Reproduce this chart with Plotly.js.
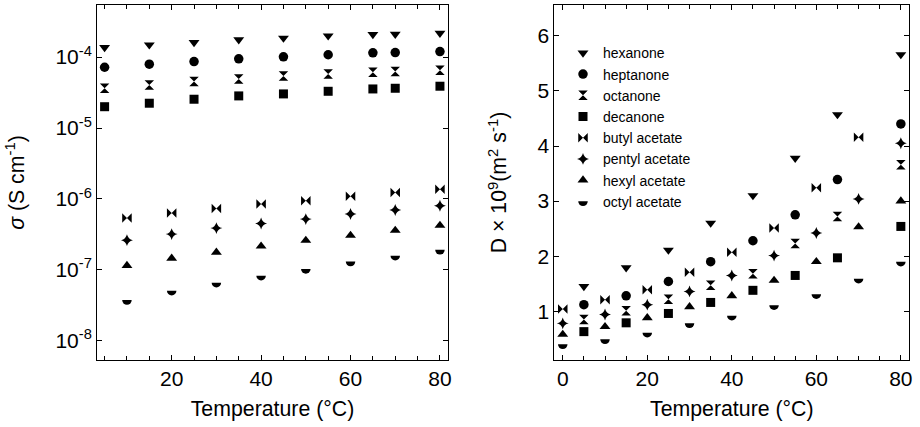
<!DOCTYPE html>
<html>
<head>
<meta charset="utf-8">
<script src="https://cdn.plot.ly/plotly-3.0.1.min.js"></script>
<style>html,body{margin:0;padding:0;background:#fff;}#chart{width:920px;height:427px;}</style>
</head>
<body>
<div id="chart"></div>
<script>
// ---------- data ----------
var names = ["hexanone","heptanone","octanone","decanone","butyl acetate","pentyl acetate","hexyl acetate","octyl acetate"];
var symbols = ["triangle-down","circle","hourglass","square","bowtie","star-diamond","triangle-up","circle"];
var sizes = [9.5,9.5,9.5,9,9.5,8.5,9.5,9.5];

// Left panel: conductivity (S cm^-1) vs temperature
var ketoneT_L = [5,15,25,35,45,55,65,70,80];
var hexanone_sig  = [1.37e-4,1.49e-4,1.61e-4,1.76e-4,1.86e-4,2.0e-4,2.09e-4,2.11e-4,2.18e-4];
var heptanone_sig = [7.2e-5,7.96e-5,8.67e-5,9.46e-5,1.01e-4,1.08e-4,1.15e-4,1.16e-4,1.2e-4];
var octanone_sig  = [3.64e-5,4.06e-5,4.52e-5,4.93e-5,5.44e-5,5.8e-5,6.13e-5,6.25e-5,6.55e-5];
var decanone_sig  = [2.0e-5,2.24e-5,2.55e-5,2.84e-5,3.03e-5,3.3e-5,3.56e-5,3.64e-5,3.89e-5];
var acetateT_L = [10,20,30,40,50,60,70,80];
var butyl_sig  = [5.38e-7,6.34e-7,7.36e-7,8.5e-7,9.46e-7,1.09e-6,1.23e-6,1.37e-6];
var pentyl_sig = [2.63e-7,3.2e-7,3.89e-7,4.52e-7,5.21e-7,6.13e-7,6.99e-7,8.04e-7];
var hexyl_sig  = [1.15e-7,1.46e-7,1.77e-7,2.16e-7,2.6e-7,3.06e-7,3.6e-7,4.24e-7];
var octyl_sig  = [3.76e-8,5.1e-8,6.6e-8,8.3e-8,1.03e-7,1.31e-7,1.59e-7,1.92e-7];

// Right panel: diffusion coefficient D x 10^9 (m^2 s^-1) vs temperature
var ketoneT_R = [5,15,25,35,45,55,65,80];
var hexanone_D  = [1.45,1.79,2.11,2.60,3.10,3.78,4.57,5.66];
var heptanone_D = [1.12,1.28,1.54,1.90,2.28,2.75,3.39,4.40];
var octanone_D  = [0.85,1.01,1.22,1.47,1.68,2.23,2.72,3.66];
var decanone_D  = [0.63,0.79,0.96,1.16,1.38,1.65,1.97,2.54];
var butylT_R = [0,10,20,30,40,50,60,70];
var butyl_D  = [1.04,1.21,1.39,1.71,2.07,2.51,3.24,4.16];
var acetateT_R = [0,10,20,30,40,50,60,70,80];
var pentyl_D = [0.78,0.94,1.12,1.36,1.65,2.01,2.42,3.04,4.05];
var hexyl_D  = [0.58,0.72,0.88,1.08,1.28,1.56,1.90,2.53,3.00];
var octyl_D  = [0.40,0.49,0.61,0.78,0.92,1.11,1.31,1.59,1.90];

// tick labels
var logTickVals = [1e-8,1e-7,1e-6,1e-5,1e-4];
var logTickText = ["10<sup>-8</sup>","10<sup>-7</sup>","10<sup>-6</sup>","10<sup>-5</sup>","10<sup>-4</sup>"];

var leftX = [ketoneT_L,ketoneT_L,ketoneT_L,ketoneT_L,acetateT_L,acetateT_L,acetateT_L,acetateT_L];
var leftY = [hexanone_sig,heptanone_sig,octanone_sig,decanone_sig,butyl_sig,pentyl_sig,hexyl_sig,octyl_sig];
var rightX = [ketoneT_R,ketoneT_R,ketoneT_R,ketoneT_R,butylT_R,acetateT_R,acetateT_R,acetateT_R];
var rightY = [hexanone_D,heptanone_D,octanone_D,decanone_D,butyl_D,pentyl_D,hexyl_D,octyl_D];

var FONT = "Liberation Sans, Arial, Helvetica, sans-serif";
var traces = [];
for (var i = 0; i < 8; i++) {
  traces.push({x:leftX[i], y:leftY[i], type:'scatter', mode:'markers', name:names[i],
    xaxis:'x', yaxis:'y', showlegend:false, uid:'L'+i, cliponaxis:false,
    marker:{symbol:symbols[i], size:sizes[i], color:'#000', line:{width:0}}});
}
for (var j = 0; j < 8; j++) {
  traces.push({x:rightX[j], y:rightY[j], type:'scatter', mode:'markers', name:names[j],
    xaxis:'x2', yaxis:'y2', showlegend:true, uid:'R'+j, cliponaxis:false,
    marker:{symbol:symbols[j], size:sizes[j], color:'#000', line:{width:0}}});
}

function axisCommon() {
  return {showline:true, linecolor:'#000', linewidth:1, mirror:'ticks', ticks:'inside',
    ticklen:5, tickwidth:1, tickcolor:'#000', showgrid:false, zeroline:false,
    tickfont:{family:FONT, size:21, color:'#000'}};
}
var TFONT = {family:FONT, size:21.3, color:'#000'};
var xa = Object.assign(axisCommon(), {domain:[97/920, 448/920], range:[3.3,81.8], tick0:0, dtick:20,
  minor:{dtick:5, ticks:'inside', ticklen:4, tickcolor:'#000', tickwidth:1, showgrid:false},
  anchor:'y', title:{text:'Temperature (°C)', font:TFONT, standoff:11}});
var ya = Object.assign(axisCommon(), {type:'log', range:[-8.27,-3.265], tickvals:logTickVals, ticktext:logTickText,
  anchor:'x', title:{text:'<i>σ</i> (S cm<sup>-1</sup>)', font:TFONT, standoff:24}});
var xa2 = Object.assign(axisCommon(), {domain:[554.3/920, 909.3/920], range:[-2,82], tick0:0, dtick:20,
  minor:{dtick:5, ticks:'inside', ticklen:4, tickcolor:'#000', tickwidth:1, showgrid:false},
  anchor:'y2', title:{text:'Temperature (°C)', font:TFONT, standoff:11}});
var ya2 = Object.assign(axisCommon(), {range:[0.115,6.56], tick0:0, dtick:1,
  anchor:'x2', title:{text:'D × 10<sup>9</sup>(m<sup>2</sup> s<sup>-1</sup>)', font:TFONT, standoff:24}});

var layout = {
  width:920, height:427,
  margin:{l:0, r:0, t:5, b:67},
  paper_bgcolor:'#fff', plot_bgcolor:'#fff',
  font:{family:FONT, color:'#000'},
  xaxis:xa, yaxis:ya, xaxis2:xa2, yaxis2:ya2,
  showlegend:true,
  legend:{x:563/920, y:0.909, xanchor:'left', yanchor:'top', bgcolor:'rgba(0,0,0,0)',
    borderwidth:0, font:{family:FONT, size:14, color:'#000'}, tracegroupgap:0}
};

var HALF = "M-4.75,0A4.75,4.75 0 0,0 4.75,0Z";
function halfDiscs(gd) {
  ['L7','R7'].forEach(function(u){
    gd.querySelectorAll('.trace' + u + ' path.point').forEach(function(p){ p.setAttribute('d', HALF); });
  });
  gd.querySelectorAll('.legend .traces').forEach(function(it){
    var d = it.__data__;
    var tr = d && d[0] && d[0].trace;
    if (tr && tr.uid === 'R7') {
      it.querySelectorAll('path.scatterpts').forEach(function(p){ p.setAttribute('d', HALF); });
    }
  });
}
var gd = document.getElementById('chart');
Plotly.newPlot(gd, traces, layout, {staticPlot:true, responsive:false, displayModeBar:false}).then(function(){ halfDiscs(gd); });
</script>
</body>
</html>
